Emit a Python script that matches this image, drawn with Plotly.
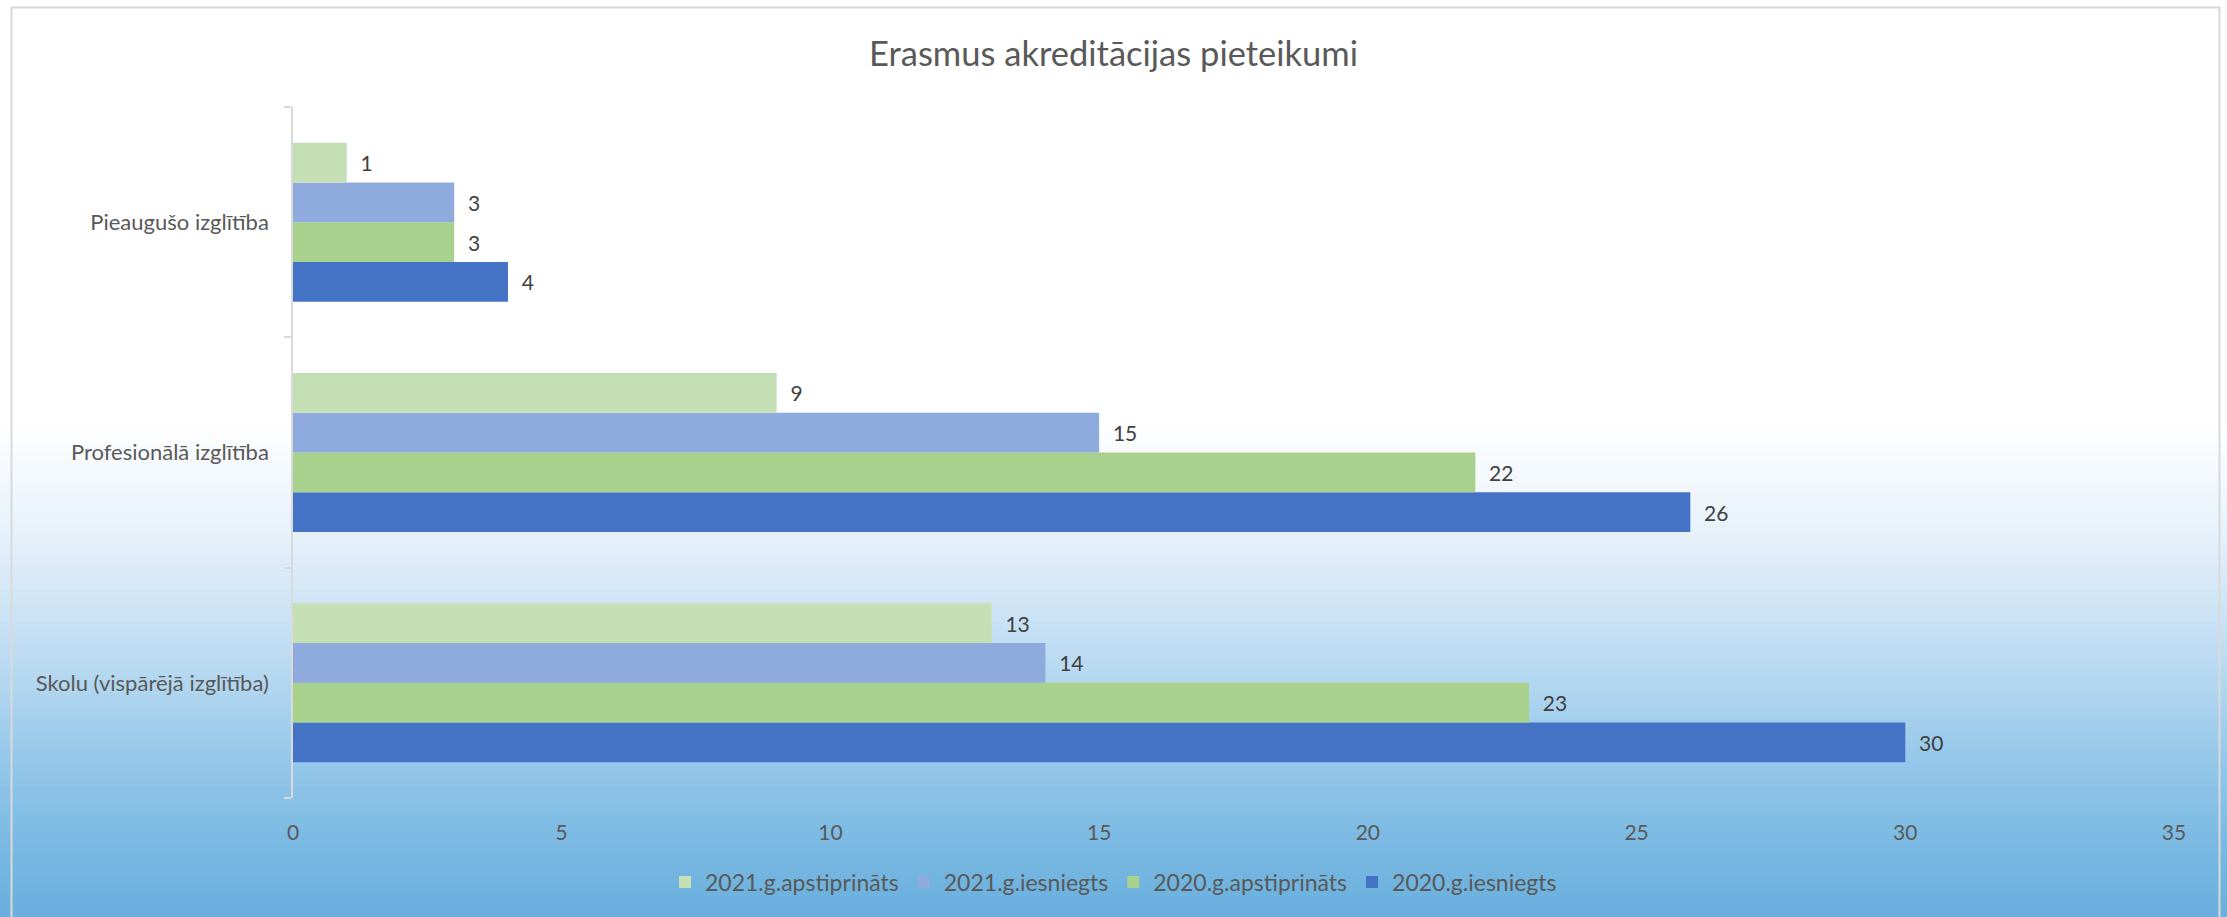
import plotly.graph_objects as go

# ---- data ----
categories = ["Skolu (vispārējā izglītība)", "Profesionālā izglītība", "Pieaugušo izglītība"]
series_names = ["2020.g.iesniegts", "2020.g.apstiprināts", "2021.g.iesniegts", "2021.g.apstiprināts"]
v_2020_iesniegts = [30, 26, 4]
v_2020_apstiprinats = [23, 22, 3]
v_2021_iesniegts = [14, 15, 3]
v_2021_apstiprinats = [13, 9, 1]
series_values = [v_2020_iesniegts, v_2020_apstiprinats, v_2021_iesniegts, v_2021_apstiprinats]
series_colors = ["#4472C4", "#A9D18E", "#8FAADC", "#C5E0B4"]
x_ticks = [0, 5, 10, 15, 20, 25, 30, 35]
title_text = "Erasmus akreditācijas pieteikumi"

W, H = 2227, 917
FONT = "Lato"
TXT = "#595959"

fig = go.Figure()
for name, vals, col in zip(series_names, series_values, series_colors):
    fig.add_trace(go.Bar(
        y=categories, x=vals, name=name, orientation="h",
        marker=dict(color=col, line=dict(width=0)),
        texttemplate="\u00a0\u00a0%{x}", textposition="outside",
        textfont=dict(family=FONT, size=21, color="#404040"),
        constraintext="none", cliponaxis=False,
    ))

# ---- background gradient (styling) ----
def hex2rgb(h):
    h = h.lstrip("#")
    return tuple(int(h[i:i + 2], 16) for i in (0, 2, 4))

stops = [(0.0, "#ffffff"), (0.46, "#ffffff"), (0.57, "#eaf3fb"), (0.70, "#c2def3"),
         (0.82, "#98c9ea"), (0.92, "#7ab9e2"), (1.0, "#69afdd")]

def color_at(t):
    for (t0, c0), (t1, c1) in zip(stops[:-1], stops[1:]):
        if t0 <= t <= t1:
            f = 0 if t1 == t0 else (t - t0) / (t1 - t0)
            a, b = hex2rgb(c0), hex2rgb(c1)
            return "rgb(%d,%d,%d)" % tuple(round(a[i] + (b[i] - a[i]) * f) for i in range(3))
    return stops[-1][1]

shapes = []
N = 140
for i in range(N):
    t_top = i / N
    t_bot = (i + 1) / N
    shapes.append(dict(type="rect", xref="paper", yref="paper", x0=0, x1=1,
                       y0=1 - t_bot - 0.001, y1=1 - t_top, layer="below",
                       line=dict(width=0), fillcolor=color_at((t_top + t_bot) / 2)))
# chart border
shapes.append(dict(type="rect", xref="paper", yref="paper",
                   x0=11.5 / W, x1=2219.5 / W, y0=-0.02, y1=1 - 7.5 / H, layer="below",
                   line=dict(color="#d9d9d9", width=2), fillcolor="rgba(0,0,0,0)"))

fig.update_layout(
    width=W, height=H,
    margin=dict(l=0, r=0, t=0, b=0, autoexpand=False),
    paper_bgcolor="white", plot_bgcolor="rgba(0,0,0,0)",
    shapes=shapes,
    barmode="group", bargap=0.31, bargroupgap=0,
    font=dict(family=FONT, color=TXT),
    title=dict(text=title_text, x=0.5, xanchor="center", y=1 - 54 / H, yanchor="middle",
               font=dict(family=FONT, size=34.5, color=TXT)),
    legend=dict(orientation="h", x=0.5, xanchor="center", y=1 - 882 / H, yanchor="middle",
                traceorder="reversed", font=dict(family=FONT, size=23, color=TXT),
                bgcolor="rgba(0,0,0,0)"),
    xaxis=dict(domain=[293 / W, 2174 / W], range=[0, 35], tickvals=x_ticks,
               showgrid=False, zeroline=False, showline=False, ticks="",
               tickfont=dict(family=FONT, size=21, color=TXT),
               ticklabelstandoff=20, automargin=False),
    yaxis=dict(domain=[(H - 798) / H, (H - 107) / H], type="category",
               categoryorder="array", categoryarray=categories,
               showgrid=False, zeroline=False, showline=True, linecolor="#d9d9d9", linewidth=1.5,
               ticks="outside", tickson="boundaries", ticklen=7, tickcolor="#d9d9d9", tickwidth=1.5,
               tickfont=dict(family=FONT, size=22, color=TXT), ticklabelstandoff=18,
               automargin=False),
)

fig.write_html("out.html", config={"displayModeBar": False},
               post_script="document.body.style.margin='0';document.body.style.overflow='hidden';")
